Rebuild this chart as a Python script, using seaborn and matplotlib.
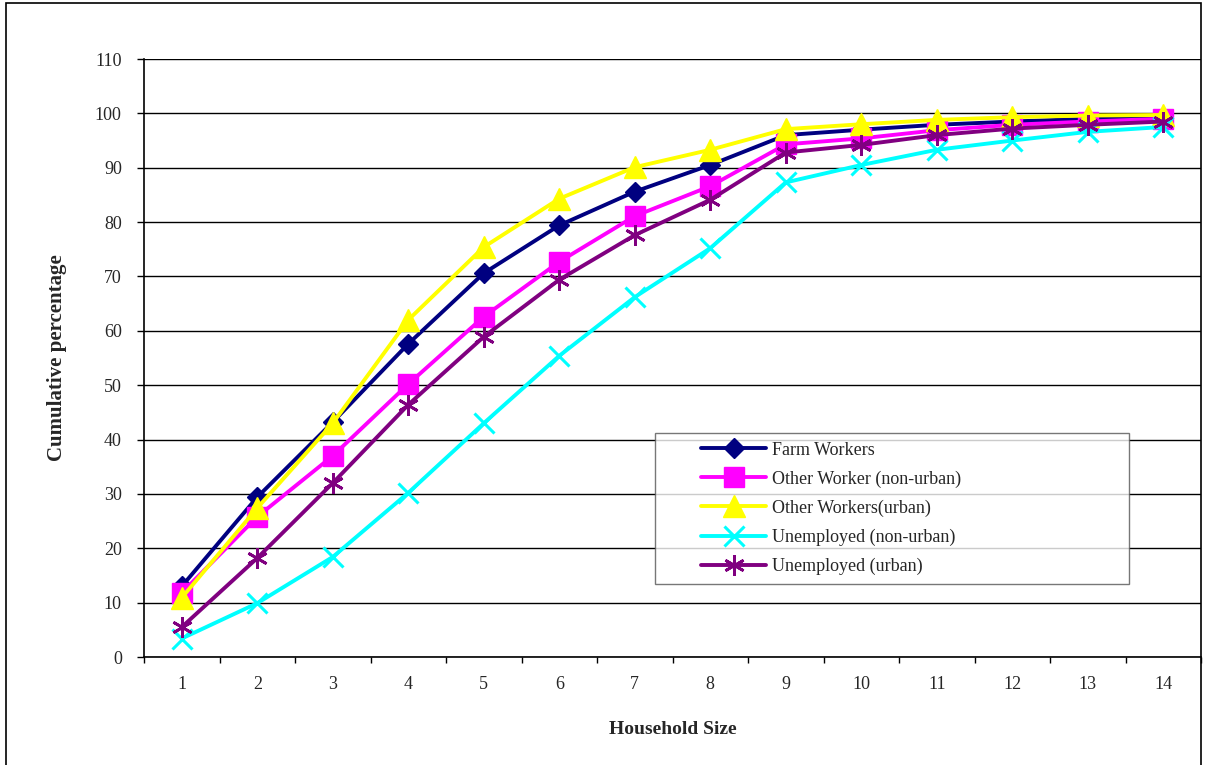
import matplotlib
matplotlib.use("Agg")
import matplotlib.pyplot as plt
from matplotlib.patches import Rectangle
from matplotlib.ticker import FixedLocator
from matplotlib.lines import Line2D
from matplotlib.legend_handler import HandlerLine2D
import seaborn as sns
import pandas as pd

household_size = list(range(1, 15))
farm_workers = [13.0, 29.4, 43.2, 57.6, 70.6, 79.4, 85.6, 90.5, 96.0, 97.0, 97.9, 98.5, 99.0, 99.2]
other_nonurban = [11.8, 25.8, 37.0, 50.2, 62.6, 72.7, 81.1, 86.6, 94.3, 95.4, 96.9, 97.9, 98.5, 99.0]
other_urban = [10.9, 27.4, 43.0, 62.0, 75.4, 84.3, 90.1, 93.3, 97.1, 98.0, 98.8, 99.3, 99.6, 99.7]
unemp_nonurban = [3.4, 9.9, 18.4, 30.2, 43.0, 55.4, 66.2, 75.2, 87.3, 90.5, 93.3, 95.0, 96.6, 97.5]
unemp_urban = [5.5, 18.2, 32.0, 46.4, 58.9, 69.4, 77.6, 84.1, 92.8, 94.2, 96.0, 97.2, 97.9, 98.5]

series_names = ["Farm Workers", "Other Worker (non-urban)", "Other Workers(urban)",
                "Unemployed (non-urban)", "Unemployed (urban)"]
series_values = [farm_workers, other_nonurban, other_urban, unemp_nonurban, unemp_urban]
y_ticks = list(range(0, 111, 10))

colors = ["#000080", "#FF00FF", "#FFFF00", "#00FFFF", "#800080"]
markers = ["D", "s", "^", "x", (6, 2, 0)]
msizes = [10, 14, 16, 14, 15]
mews = [1, 1, 1, 2.2, 2.0]

sns.set_style("white")
plt.rcParams["font.family"] = ["Liberation Serif", "DejaVu Serif"]

fig = plt.figure(figsize=(12.05, 7.65), dpi=100)
ax = fig.add_axes([144 / 1205, 1 - 657 / 765, (1201 - 144) / 1205, (657 - 59) / 765])

frames = []
for name, vals in zip(series_names, series_values):
    frames.append(pd.DataFrame({"size": household_size, "pct": vals, "series": name}))
df = pd.concat(frames, ignore_index=True)

for i, name in enumerate(series_names):
    sub = df[df["series"] == name]
    sns.lineplot(data=sub, x="size", y="pct", ax=ax, color=colors[i], marker=markers[i],
                 markersize=msizes[i], markeredgecolor=colors[i], markerfacecolor=colors[i],
                 markeredgewidth=mews[i], linewidth=2.8, label=name, zorder=3 + i)

ax.set_xlim(0.5, 14.5)
ax.set_ylim(0, 110)
ax.set_yticks(y_ticks)
ax.set_yticklabels([str(v) for v in y_ticks])
ax.set_xticks(household_size)
ax.set_xticklabels([str(v) for v in household_size])
ax.xaxis.set_minor_locator(FixedLocator([v + 0.5 for v in range(0, 15)]))
ax.yaxis.grid(True, color="black", linewidth=1.0)
ax.xaxis.grid(False)
ax.set_axisbelow(True)

for side in ["left", "bottom"]:
    ax.spines[side].set_visible(True)
    ax.spines[side].set_color("black")
    ax.spines[side].set_linewidth(1.2)
ax.spines["top"].set_visible(False)
ax.spines["right"].set_visible(False)

ax.tick_params(axis="y", which="major", direction="out", length=5, width=1, color="black",
               labelsize=13, pad=11, left=True)
ax.tick_params(axis="x", which="major", length=0, labelsize=13, pad=14)
ax.tick_params(axis="x", which="minor", direction="out", length=4, width=1, color="black",
               bottom=True)

ax.set_xlabel("Household Size", fontsize=14, fontweight="bold", labelpad=20)
ax.set_ylabel("Cumulative percentage", fontsize=15, fontweight="bold", labelpad=20)

handles, labels = ax.get_legend_handles_labels()
leg = ax.legend(handles, labels, loc="upper left",
                bbox_to_anchor=(0.483, 0.119, 0.449, 0.256), mode="expand",
                frameon=True, fancybox=False, edgecolor="#555555", fontsize=13,
                handlelength=5.7, handletextpad=0.3, labelspacing=0.65, borderpad=0.5,
                borderaxespad=0, numpoints=1,
                handler_map={Line2D: HandlerLine2D(xpad=2.05)})
leg.get_frame().set_linewidth(1.0)
leg.set_zorder(20)

fig.patches.append(Rectangle((6 / 1205, -0.05), (1201 - 6) / 1205, (762 / 765) + 0.05,
                             transform=fig.transFigure, fill=False, edgecolor="black",
                             linewidth=1.2, zorder=0))

fig.savefig("out.png", dpi=100, facecolor="white")
